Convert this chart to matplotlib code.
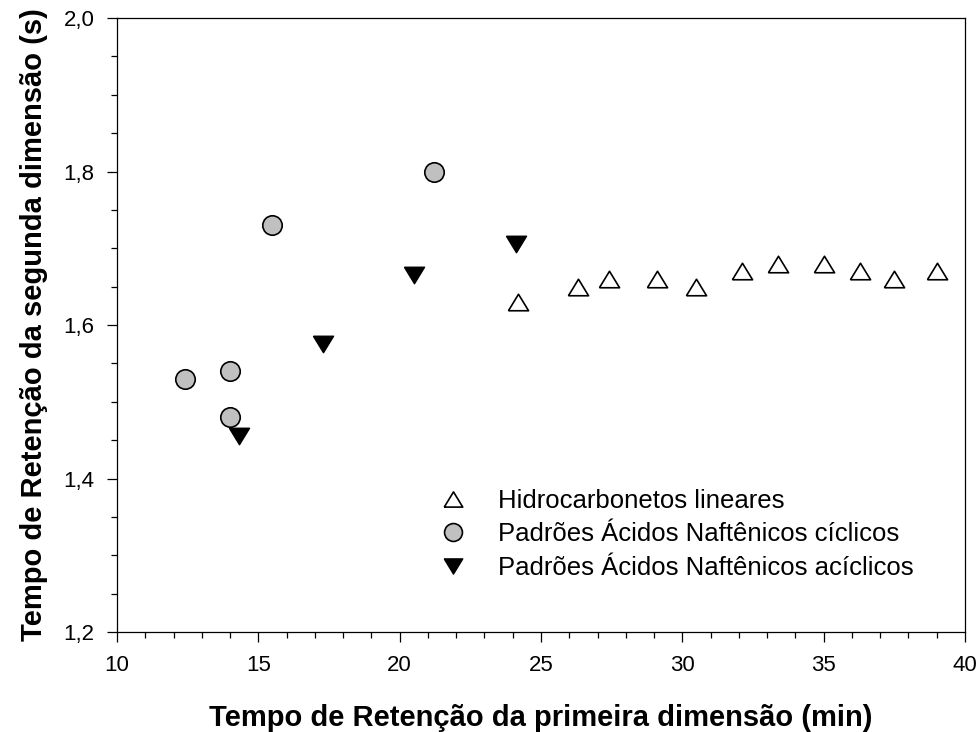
import matplotlib
matplotlib.use("Agg")
import matplotlib.pyplot as plt
from matplotlib.ticker import MultipleLocator, FuncFormatter

plt.rcParams['font.family'] = ['Liberation Sans', 'DejaVu Sans']

# retention times: 1st dimension (min), 2nd dimension (s)
hc_x = [24.2, 26.3, 27.4, 29.1, 30.5, 32.1, 33.4, 35.0, 36.3, 37.5, 39.0]
hc_y = [1.63, 1.65, 1.66, 1.66, 1.65, 1.67, 1.68, 1.68, 1.67, 1.66, 1.67]

cic_x = [12.4, 14.0, 14.0, 15.5, 21.2]
cic_y = [1.53, 1.54, 1.48, 1.73, 1.80]

acic_x = [14.3, 17.3, 20.5, 24.1]
acic_y = [1.455, 1.575, 1.665, 1.705]

labels = ["Hidrocarbonetos lineares",
          "Padrões Ácidos Naftênicos cíclicos",
          "Padrões Ácidos Naftênicos acíclicos"]

# slightly flattened triangles
tri_up = [(-1, -0.82), (1, -0.82), (0, 0.82), (-1, -0.82)]
tri_dn = [(-1, 0.82), (1, 0.82), (0, -0.82), (-1, 0.82)]

fig = plt.figure(figsize=(9.8, 7.32), dpi=100)
ax = fig.add_axes([0.1194, 0.1366, 0.8653, 0.8388])

ax.plot(hc_x, hc_y, linestyle='none', marker=tri_up, markersize=14.5,
        markerfacecolor='white', markeredgecolor='black', markeredgewidth=1.2,
        label=labels[0])
ax.plot(cic_x, cic_y, linestyle='none', marker='o', markersize=14,
        markerfacecolor='#c0c0c0', markeredgecolor='black', markeredgewidth=1.2,
        label=labels[1])
ax.plot(acic_x, acic_y, linestyle='none', marker=tri_dn, markersize=14.5,
        markerfacecolor='black', markeredgecolor='black', markeredgewidth=1.0,
        label=labels[2])

ax.set_xlim(10, 40)
ax.set_ylim(1.2, 2.0)
ax.xaxis.set_major_locator(MultipleLocator(5))
ax.xaxis.set_minor_locator(MultipleLocator(1))
ax.yaxis.set_major_locator(MultipleLocator(0.2))
ax.yaxis.set_minor_locator(MultipleLocator(0.05))
ax.yaxis.set_major_formatter(FuncFormatter(lambda v, p: f"{v:.1f}".replace('.', ',')))

ax.tick_params(which='major', direction='out', length=7.2, width=0.9, labelsize=16, pad=9)
ax.tick_params(which='minor', direction='out', length=4.3, width=0.9)
ax.tick_params(top=False, right=False)
for s in ax.spines.values():
    s.set_linewidth(0.9)

ax.set_xlabel("Tempo de Retenção da primeira dimensão (min)", fontsize=21,
              fontweight='bold')
ax.set_ylabel("Tempo de Retenção da segunda dimensão (s)", fontsize=21,
              fontweight='bold')
ax.xaxis.set_label_coords(0.5, -0.1165)
ax.yaxis.set_label_coords(-0.0814, 0.5)

ax.legend(loc='upper left', bbox_to_anchor=(0.3735, 0.2335), frameon=False,
          fontsize=18.5, handletextpad=1.0, labelspacing=0.37, borderaxespad=0,
          borderpad=0, handlelength=1.5, markerscale=0.92)

fig.savefig("out.png", dpi=100)
